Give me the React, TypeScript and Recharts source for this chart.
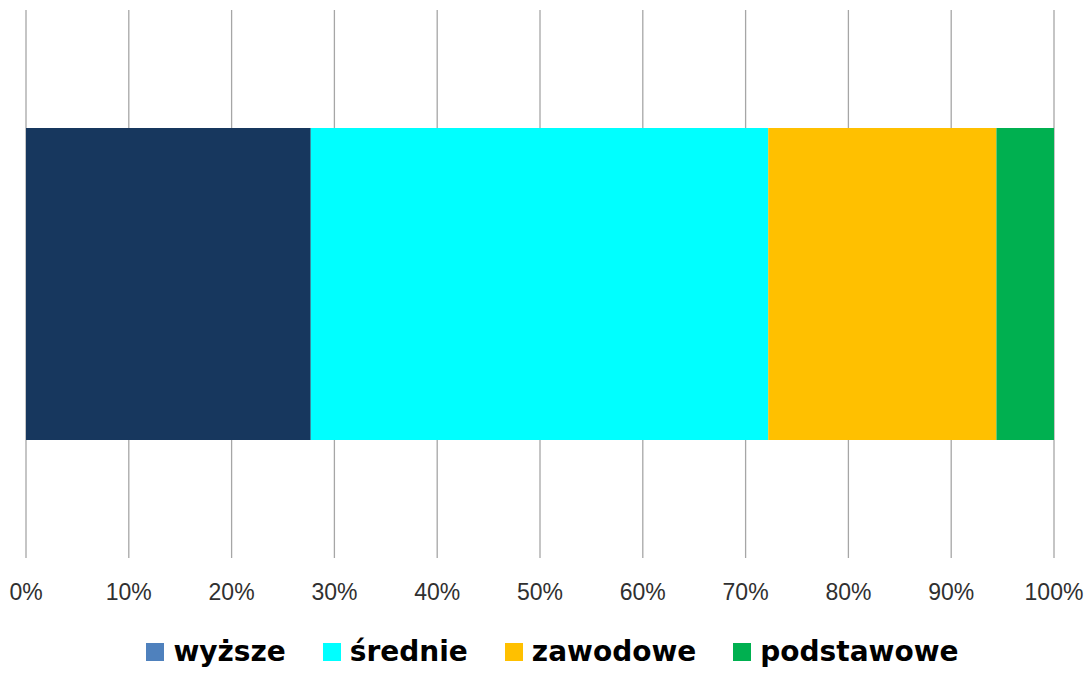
import React from "react";
import { BarChart, Bar, XAxis, YAxis, CartesianGrid } from "recharts";

const categories = ["wykształcenie"];
const seriesNames = ["wyższe", "średnie", "zawodowe", "podstawowe"];
const seriesKeys = ["wyzsze", "srednie", "zawodowe", "podstawowe"];
const seriesValues = [27.7, 44.5, 22.2, 5.6];
const barColors = ["#17375E", "#00FFFF", "#FFC000", "#00B050"];
const legendColors = ["#4F81BD", "#00FFFF", "#FFC000", "#00B050"];
const tickValues = [0, 10, 20, 30, 40, 50, 60, 70, 80, 90, 100];

const data = categories.map((c) => {
  const row: Record<string, string | number> = { name: c };
  seriesKeys.forEach((k, i) => {
    row[k] = seriesValues[i];
  });
  return row;
});

export default function App() {
  return (
    <div style={{ position: "absolute", left: 0, top: 0, width: 1090, height: 673, background: "#fff" }}>
      <BarChart
        width={1090}
        height={673}
        data={data}
        layout="vertical"
        margin={{ top: 10, right: 36, bottom: 85, left: 26 }}
        barSize={312}
      >
        <CartesianGrid horizontal={false} vertical={true} stroke="#A6A6A6" strokeWidth={1.3} />
        <XAxis
          type="number"
          domain={[0, 100]}
          ticks={tickValues}
          tickFormatter={(v: number) => `${v}%`}
          axisLine={false}
          tickLine={false}
          tickMargin={20}
          height={30}
          interval={0}
          tick={{ fontSize: 23, fill: "#303030", fontFamily: "Liberation Sans, Arial, sans-serif" }}
        />
        <YAxis type="category" dataKey="name" hide width={0} />
        {seriesKeys.map((k, i) => (
          <Bar key={k} dataKey={k} name={seriesNames[i]} stackId="a" fill={barColors[i]} isAnimationActive={false} />
        ))}
      </BarChart>
      <div
        style={{
          position: "absolute",
          left: 0,
          top: 634,
          width: 1090,
          display: "flex",
          justifyContent: "center",
          alignItems: "center",
          gap: 37,
          paddingLeft: 15,
          boxSizing: "border-box",
          fontFamily: "DejaVu Sans, sans-serif",
          fontWeight: 700,
          fontSize: 28,
          color: "#000",
        }}
      >
        {seriesNames.map((n, i) => (
          <div key={n} style={{ display: "flex", alignItems: "center", gap: 9 }}>
            <span style={{ width: 18, height: 18, background: legendColors[i], display: "inline-block" }} />
            <span style={{ lineHeight: "36px" }}>{n}</span>
          </div>
        ))}
      </div>
    </div>
  );
}
